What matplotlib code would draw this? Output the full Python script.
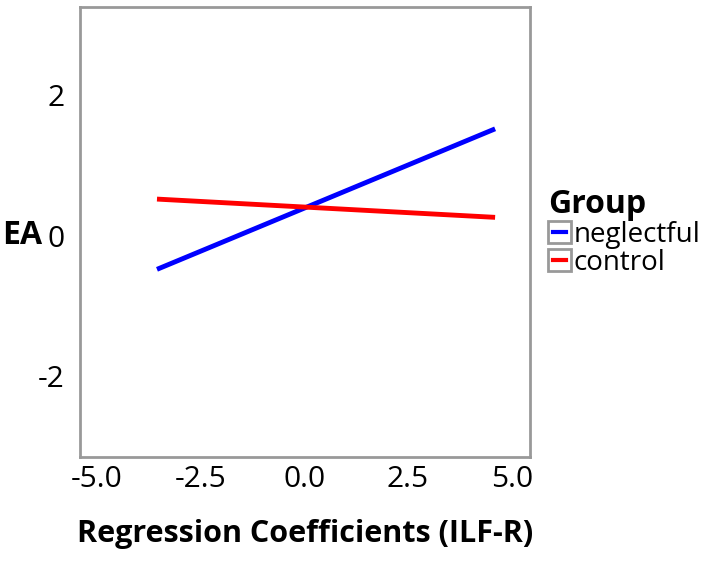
import matplotlib
matplotlib.use('Agg')
import matplotlib.pyplot as plt
from matplotlib.lines import Line2D
from matplotlib.patches import Rectangle
from matplotlib.legend_handler import HandlerBase

plt.rcParams['font.family'] = ['Open Sans', 'DejaVu Sans']

# fitted lines, endpoints
groups = ['neglectful', 'control']
colors = ['#0000ff', '#ff0000']
x_ends = [-3.55, 4.6]
y_ends = {'neglectful': [-0.48, 1.52], 'control': [0.52, 0.26]}
xticks = [-5.0, -2.5, 0.0, 2.5, 5.0]
yticks = [-2, 0, 2]


class BoxLine(HandlerBase):
  def create_artists(self, legend, orig, xd, yd, w, h, fontsize, trans):
    x0, y0 = -xd, -yd
    box = Rectangle((x0, y0), w, h, fill=False, edgecolor='#999999', lw=2, transform=trans)
    ln = Line2D([x0 + 3, x0 + w - 3], [y0 + h / 2, y0 + h / 2], color=orig.get_color(), lw=3, transform=trans)
    return [box, ln]


fig = plt.figure(figsize=(7.1, 5.62), dpi=100)
ax = fig.add_axes([0.113, 0.187, 0.634, 0.8])

handles = []
for g, c in zip(groups, colors):
  h, = ax.plot(x_ends, y_ends[g], color=c, lw=3.5, solid_capstyle='butt')
  handles.append(h)

ax.set_xlim(-5.4, 5.45)
ax.set_ylim(-3.15, 3.25)
ax.set_xticks(xticks)
ax.set_xticklabels(['%.1f' % v for v in xticks])
ax.set_yticks(yticks)
ax.set_yticklabels([str(v) for v in yticks])
ax.tick_params(length=0, labelsize=21.5)
ax.tick_params(axis='x', pad=6)
ax.tick_params(axis='y', pad=11)
for s in ax.spines.values():
  s.set_color('#999999')
  s.set_linewidth(2)

ax.set_xlabel('Regression Coefficients (ILF-R)', fontsize=22, fontweight='bold')
ax.xaxis.set_label_coords(0.5, -0.138)
ax.set_ylabel('EA', fontsize=23, fontweight='bold', rotation=0, va='center')
ax.yaxis.set_label_coords(-0.128, 0.493)

leg = ax.legend(handles, groups, title='Group', loc='center left', bbox_to_anchor=(1.04, 0.5),
                frameon=False, fontsize=20, handler_map={Line2D: BoxLine()},
                handlelength=0.8, handleheight=0.85, handletextpad=0.1, labelspacing=0.0,
                borderaxespad=0, borderpad=0)
leg.get_title().set_fontweight('bold')
leg.get_title().set_fontsize(23)
leg._legend_box.align = 'left'

fig.savefig('out.png', dpi=100)
